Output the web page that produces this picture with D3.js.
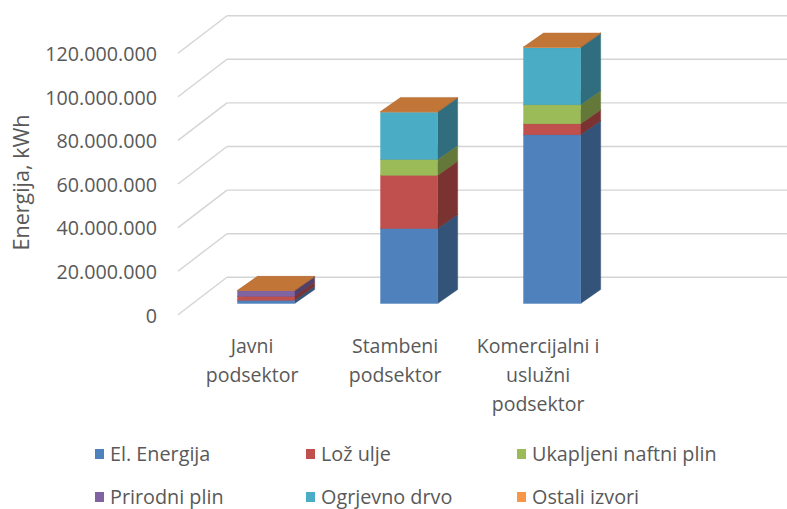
<!DOCTYPE html>
<html>
<head>
<meta charset="utf-8">
<script src="https://cdn.jsdelivr.net/npm/d3@7"></script>
<style>
  body { margin: 0; background: #fff; }
  text { font-family: "Open Sans", sans-serif; fill: #595959; }
</style>
</head>
<body>
<svg id="chart"></svg>
<script>
// categories (line breaks as in the original axis labels)
const categories = ["Javni\npodsektor", "Stambeni\npodsektor", "Komercijalni i\nuslužni\npodsektor"];

const seriesNames = ["El. Energija", "Lož ulje", "Ukapljeni naftni plin", "Prirodni plin", "Ogrjevno drvo", "Ostali izvori"];
const seriesColors = ["#4f81bd", "#c0504d", "#9bbb59", "#8064a2", "#4bacc6", "#f79646"];

// values in kWh
const elEnergija   = [1500000, 34400000, 77400000];
const lozUlje      = [1800000, 24400000, 5000000];
const ukapljeniUNP = [0, 7300000, 8800000];
const prirodniPlin = [2600000, 0, 0];
const ogrjevnoDrvo = [0, 21700000, 26200000];
const ostaliIzvori = [150000, 300000, 300000];

const yTicks = [0, 20000000, 40000000, 60000000, 80000000, 100000000, 120000000];

const seriesValues = [elEnergija, lozUlje, ukapljeniUNP, prirodniPlin, ogrjevnoDrvo, ostaliIzvori];

const width = 787, height = 509;

// table for d3.stack
const table = categories.map((c, i) => {
  let row = {category: c};
  seriesNames.forEach((s, j) => { row[s] = seriesValues[j][i]; });
  return row;
});

const svg = d3.select("#chart")
  .attr("width", width)
  .attr("height", height);

// number format with dots as thousands separator
const locale = d3.formatLocale({decimal: ",", thousands: ".", grouping: [3], currency: ["", ""]});
const fmt = locale.format(",");

// fake 3D: front plane of the bars, back wall, left side wall
const x = d3.scaleBand()
  .domain(categories)
  .range([194.6, 623.6])
  .paddingInner(0.6)
  .paddingOuter(0.3);

const yFront = d3.scaleLinear().domain([0, 120000000]).range([303.5, 41.9]);
const yBack = d3.scaleLinear().domain([0, 120000000]).range([277.3, 15.7]);

const depth = {dx: 20, dy: -14};
const wall = {backX: 227, frontX: 178, dy: 37.5, right: width};

const grid = svg.append("g").attr("class", "grid")
  .attr("stroke", "#d4d4d4")
  .attr("stroke-width", 1.4)
  .attr("fill", "none");

// back wall lines
grid.selectAll(".back")
  .data(yTicks)
  .join("line")
  .attr("class", "back")
  .attr("x1", wall.backX)
  .attr("x2", wall.right)
  .attr("y1", d => yBack(d))
  .attr("y2", d => yBack(d));

// side wall lines
grid.selectAll(".side")
  .data(yTicks)
  .join("line")
  .attr("class", "side")
  .attr("x1", wall.backX)
  .attr("x2", wall.frontX)
  .attr("y1", d => yBack(d))
  .attr("y2", d => yBack(d) + wall.dy);

// tick labels
svg.append("g")
  .selectAll("text")
  .data(yTicks)
  .join("text")
  .attr("x", 157)
  .attr("y", d => yBack(d) + wall.dy + 1)
  .attr("dy", "0.35em")
  .attr("text-anchor", "end")
  .style("font-size", "19.7px")
  .text(d => fmt(d));

// Y-Axis Label
svg.append("text")
  .attr("transform", "translate(28.5,182.5) rotate(-90)")
  .attr("text-anchor", "middle")
  .style("font-size", "21.5px")
  .text("Energija, kWh");

// stacked 3D bars
const stack = d3.stack().keys(seriesNames);
const layers = stack(table);

const shade = (c, k) => {
  let col = d3.rgb(c);
  return d3.rgb(col.r * k, col.g * k, col.b * k).formatHex();
};

const bars = svg.append("g").attr("class", "bars");
const bw = x.bandwidth();

layers.forEach((layer, li) => {
  const color = seriesColors[li];
  layer.forEach(seg => {
    if (seg[1] - seg[0] <= 0) return;
    const xl = x(seg.data.category), xr = xl + bw;
    const y0 = yFront(seg[0]), y1 = yFront(seg[1]);
    const g = bars.append("g");
    // side face
    g.append("polygon")
      .attr("points", [[xr, y0], [xr + depth.dx, y0 + depth.dy], [xr + depth.dx, y1 + depth.dy], [xr, y1]].join(" "))
      .attr("fill", shade(color, 0.64))
      .attr("stroke", shade(color, 0.64))
      .attr("stroke-width", 0.4);
    // front face
    g.append("rect")
      .attr("x", xl)
      .attr("y", y1)
      .attr("width", bw)
      .attr("height", y0 - y1)
      .attr("fill", color)
      .attr("stroke", color)
      .attr("stroke-width", 0.4);
    // top face
    g.append("polygon")
      .attr("points", [[xl, y1], [xr, y1], [xr + depth.dx, y1 + depth.dy], [xl + depth.dx, y1 + depth.dy]].join(" "))
      .attr("fill", shade(color, 0.78))
      .attr("stroke", shade(color, 0.78))
      .attr("stroke-width", 0.4);
  });
});

// category labels, sitting on the front edge of the floor
svg.append("g")
  .selectAll("text")
  .data(categories)
  .join("text")
  .attr("text-anchor", "middle")
  .style("font-size", "19.5px")
  .each(function (d) {
    const cx = x(d) + bw / 2 - 14;
    d3.select(this).selectAll("tspan")
      .data(d.split("\n"))
      .join("tspan")
      .attr("x", cx)
      .attr("y", (t, i) => 352.5 + i * 29)
      .text(t => t);
  });

// legend
const legendCols = [95, 306, 517];
const legendRows = [454, 497];
const legend = svg.append("g").attr("class", "legend")
  .selectAll("g")
  .data(seriesNames)
  .join("g")
  .attr("transform", (d, i) => `translate(${legendCols[i % 3]},${legendRows[Math.floor(i / 3)]})`);

legend.append("rect")
  .attr("x", 0)
  .attr("y", -5)
  .attr("width", 9)
  .attr("height", 10)
  .attr("fill", (d, i) => seriesColors[i]);

legend.append("text")
  .attr("x", 15)
  .attr("dy", "0.35em")
  .style("font-size", "19.8px")
  .text(d => d);
</script>
</body>
</html>
